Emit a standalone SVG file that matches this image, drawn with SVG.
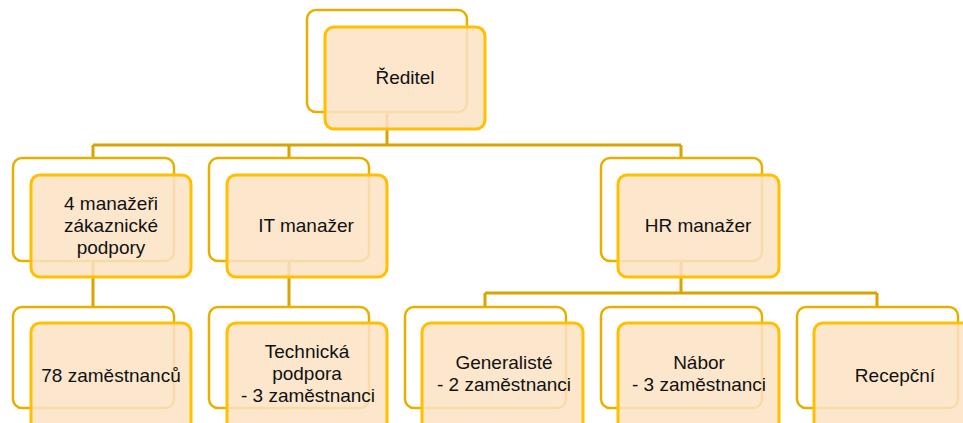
<svg xmlns="http://www.w3.org/2000/svg" width="963" height="423" viewBox="0 0 963 423">
<style>
.c{fill:none;stroke:#D8A400;stroke-width:3}
.b{fill:#FFFFFF;stroke:#E6B000;stroke-width:2.5}
.f{fill:#FBE3C4;fill-opacity:0.85;stroke:#FFC000;stroke-width:3}
text{font-family:"Liberation Sans",Arial,sans-serif;font-size:19px;fill:#111;text-anchor:middle}
</style>
<rect width="963" height="423" fill="#FFFFFF"/>
<g id="connectors">
<path class="c" d="M387 112V145M93 145H681M93 145V158M289 145V158M681 145V158"/>
<path class="c" d="M93 261V307M289 261V307M681 261V293M485 293H877M485 293V307M877 293V307"/>
</g>
<g id="reditel">
<rect class="b" x="307" y="10" width="160" height="102" rx="9"/>
<rect class="f" x="325" y="27" width="160" height="102" rx="9"/>
<text x="405" y="84">Ředitel</text>
</g>
<g id="manazeri">
<rect class="b" x="13" y="158" width="161" height="103" rx="9"/>
<rect class="f" x="31" y="175" width="160" height="102" rx="9"/>
<text x="111" y="210">4 manažeři</text>
<text x="111" y="232">zákaznické</text>
<text x="111" y="254">podpory</text>
</g>
<g id="it">
<rect class="b" x="209" y="158" width="160" height="103" rx="9"/>
<rect class="f" x="227" y="175" width="160" height="102" rx="9"/>
<text x="306" y="232">IT manažer</text>
</g>
<g id="hr">
<rect class="b" x="601" y="158" width="161" height="103" rx="9"/>
<rect class="f" x="618" y="175" width="161" height="102" rx="9"/>
<text x="698" y="232">HR manažer</text>
</g>
<g id="zamestnanci78">
<rect class="b" x="13" y="307" width="161" height="101" rx="9"/>
<rect class="f" x="31" y="323" width="160" height="110" rx="9"/>
<text x="111" y="382">78 zaměstnanců</text>
</g>
<g id="technicka">
<rect class="b" x="209" y="307" width="160" height="101" rx="9"/>
<rect class="f" x="227" y="323" width="160" height="110" rx="9"/>
<text x="307" y="358">Technická</text>
<text x="307" y="380">podpora</text>
<text x="308" y="402">- 3 zaměstnanci</text>
</g>
<g id="generaliste">
<rect class="b" x="405" y="307" width="161" height="101" rx="9"/>
<rect class="f" x="422" y="323" width="161" height="110" rx="9"/>
<text x="504" y="369">Generalisté</text>
<text x="504" y="391">- 2 zaměstnanci</text>
</g>
<g id="nabor">
<rect class="b" x="601" y="307" width="161" height="101" rx="9"/>
<rect class="f" x="618" y="323" width="161" height="110" rx="9"/>
<text x="699" y="369">Nábor</text>
<text x="699" y="391">- 3 zaměstnanci</text>
</g>
<g id="recepcni">
<rect class="b" x="797" y="307" width="161" height="101" rx="9"/>
<rect class="f" x="814" y="323" width="161" height="110" rx="9"/>
<text x="895" y="382">Recepční</text>
</g>
</svg>
